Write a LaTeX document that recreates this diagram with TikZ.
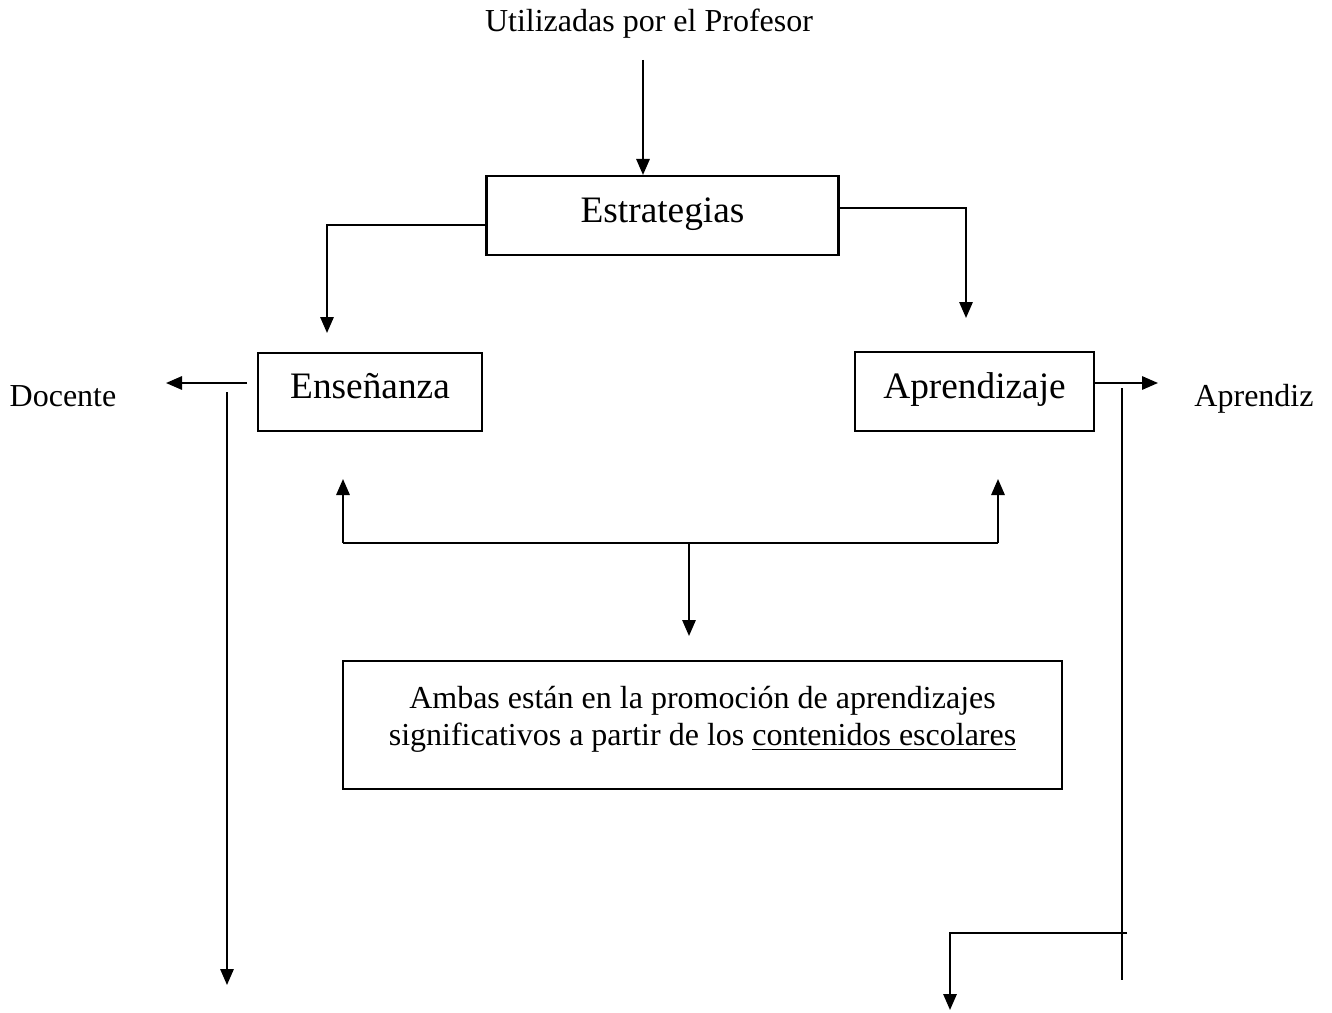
\documentclass[tikz,border=0pt]{standalone}
\usepackage{fontspec}
\setmainfont{Liberation Serif}
\usepackage{tikz}
\usetikzlibrary{arrows.meta}

\tikzset{
  conn/.style={line width=0.75pt},
  arr/.style={conn,-{Triangle[length=6pt,width=5pt]}},
  box/.style={draw,line width=0.8pt,inner sep=0pt,text height=9pt,text depth=4pt,font=\fontsize{14}{16.8}\selectfont},
  txt/.style={inner sep=0.75pt,font=\fontsize{12}{13.8}\selectfont}
}

\begin{document}
\begin{tikzpicture}[x=0.375pt,y=0.375pt,yscale=-1,xscale=1]
\useasboundingbox (0,0) rectangle (1332,1012);

% Text Node
\node[txt,anchor=base] (prof) at (649,32) {Utilizadas por el Profesor};
\node[txt,anchor=base] (doc) at (63,406) {Docente};
\node[txt,anchor=base] (apz) at (1254,406) {Aprendiz};

% Boxes
\node[box,minimum width=132pt,minimum height=29.6pt] (estr) at (662.5,215.5) {Estrategias};
\node[box,minimum width=84pt,minimum height=29.3pt] (ens) at (370,392) {Enseñanza};
\node[box,minimum width=89.6pt,minimum height=29.6pt] (apr) at (974.5,391.5) {Aprendizaje};
\node[txt,draw,line width=0.8pt,align=center,minimum width=269.6pt,minimum height=48pt] (amb) at (702.5,725)
  {Ambas están en la promoción de aprendizajes\\significativos a partir de los \underline{contenidos escolares}\\[-7pt]};

% free ends
\coordinate (t0) at (643,60);
\coordinate (ensin) at (327,333);
\coordinate (aprin) at (966,318);
\coordinate (doc0) at (247,383);
\coordinate (doc1) at (166,383);
\coordinate (l0) at (227,392);
\coordinate (l1) at (227,985);
\coordinate (apz1) at (1158,383);
\coordinate (r0) at (1122,388);
\coordinate (r1) at (1122,980);
\coordinate (r2) at (1127,933);
\coordinate (r3) at (950,1010);
\coordinate (bl) at (343,479);
\coordinate (br) at (998,479);
\coordinate (bm) at (689,543);
\coordinate (bd) at (689,636);

%Straight Lines
\draw[arr] (t0) -- (t0 |- estr.north);
\draw[arr] (estr.west |- 0,225) -| (ensin);
\draw[arr] (estr.east |- 0,208) -| (aprin);
\draw[arr] (doc0) -- (doc1);
\draw[arr] (l0) -- (l1);
\draw[arr] (apr.east |- apz1) -- (apz1);
\draw[conn] (r0) -- (r1);
\draw[arr] (r2) -| (r3);
\draw[arr] (bl |- bm) -- (bl);
\draw[arr] (br |- bm) -- (br);
\draw[conn] (bl |- bm) -- (br |- bm);
\draw[arr] (bm) -- (bd);
\end{tikzpicture}
\end{document}
